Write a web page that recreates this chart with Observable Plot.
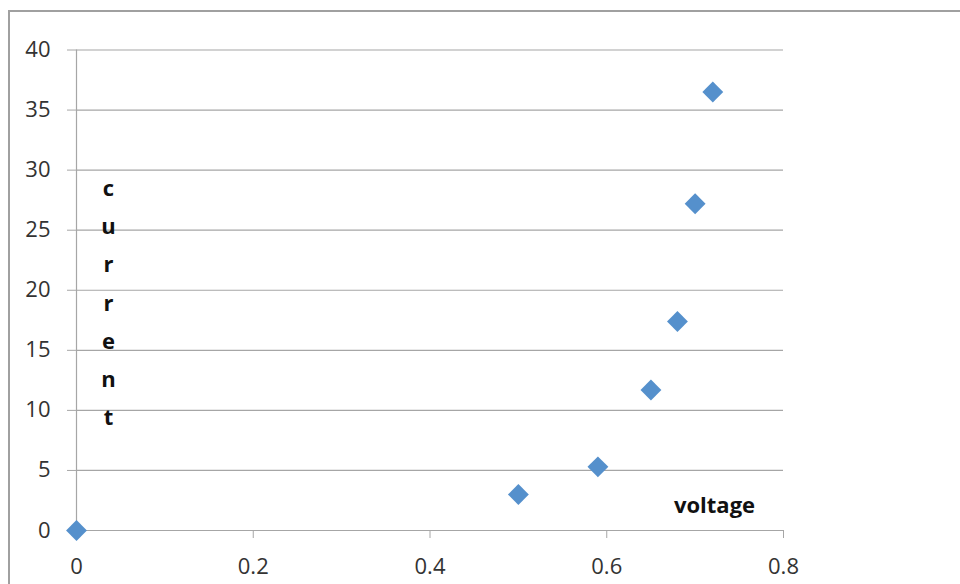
<!DOCTYPE html>
<html>
<head>
<meta charset="utf-8">
<script src="https://cdn.jsdelivr.net/npm/d3@7"></script>
<script src="https://cdn.jsdelivr.net/npm/@observablehq/plot@0.6"></script>
<style>
  html, body { margin: 0; padding: 0; background: #fff; }
  #wrap { position: relative; width: 960px; height: 584px; overflow: hidden; background: #fff; }
  #border { position: absolute; left: 8px; top: 10px; width: 2000px; height: 2000px; border: 2px solid #a0a0a0; box-sizing: border-box; }
  #chart { position: absolute; left: 0; top: 0; }
</style>
</head>
<body>
<div id="wrap">
  <div id="border"></div>
  <div id="chart"></div>
</div>
<script>
const voltage = [0, 0.5, 0.59, 0.65, 0.68, 0.70, 0.72];
const current = [0, 3.0, 5.3, 11.7, 17.4, 27.2, 36.5];
const xTicks = [0, 0.2, 0.4, 0.6, 0.8];
const yTicks = [0, 5, 10, 15, 20, 25, 30, 35, 40];
const xLabel = "voltage";
const yLabel = "current";

const data = voltage.map((v, i) => ({voltage: v, current: current[i]}));
const gridColor = "#a6a6a6";

const chart = Plot.plot({
  width: 960,
  height: 584,
  marginLeft: 76,
  marginRight: 177,
  marginTop: 49.5,
  marginBottom: 54,
  style: {fontFamily: "'Open Sans', sans-serif", fontSize: "22px", background: "transparent", overflow: "visible"},
  x: {domain: [0, 0.8]},
  y: {domain: [0, 40]},
  marks: [
    Plot.gridY(yTicks, {stroke: gridColor, strokeOpacity: 1, strokeWidth: 1.2}),
    Plot.ruleX([0], {stroke: gridColor, strokeWidth: 1.2}),
    Plot.axisY(yTicks, {tickSize: 9, tickPadding: 17, stroke: gridColor, strokeOpacity: 1, fill: "#333", label: null, tickFormat: d => String(d)}),
    Plot.axisX(xTicks, {tickSize: 8, tickPadding: 20, stroke: gridColor, strokeOpacity: 1, fill: "#333", label: null, tickFormat: d => String(d)}),
    Plot.dot(data, {x: "voltage", y: "current", symbol: "diamond2", r: 9.4, fill: "#5590cc", stroke: "none"}),
    Plot.text([xLabel], {text: d => d, frameAnchor: "bottom-right", dx: -69, dy: -24.5, textAnchor: "middle", lineAnchor: "middle", fontWeight: "bold", fill: "#111"}),
    Plot.text([yLabel], {text: d => d.split("").join("\n"), frameAnchor: "left", dx: 32, dy: 8, textAnchor: "middle", lineAnchor: "middle", lineHeight: 1.74, fontWeight: "bold", fill: "#111"})
  ]
});
document.getElementById("chart").appendChild(chart);
</script>
</body>
</html>
